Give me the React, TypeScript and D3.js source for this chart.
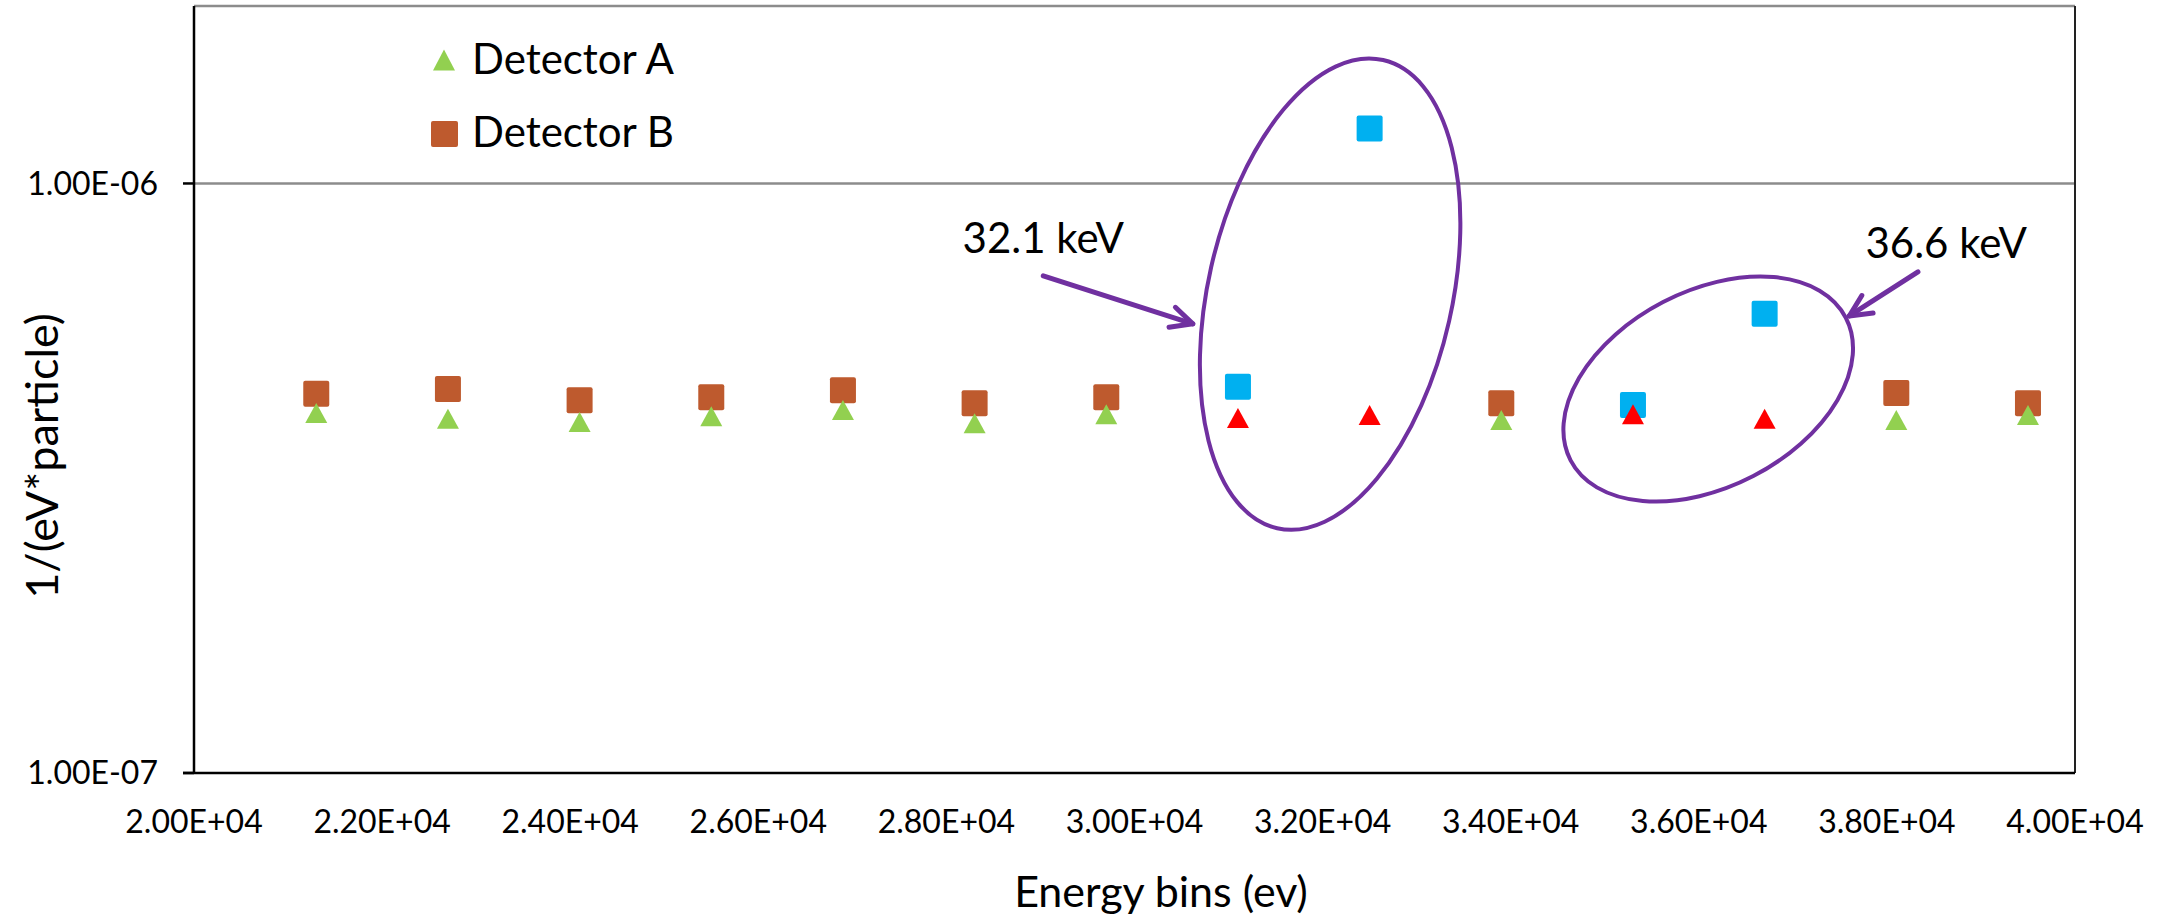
import { useEffect } from 'react'
import { scaleLinear, scaleLog } from 'd3'

const W = 2177
const H = 916

// bin centres (eV) and values
const ENERGY = [21300, 22700, 24100, 25500, 26900, 28300, 29700, 31100, 32500, 33900, 35300, 36700, 38100, 39500]
const DETECTOR_A = [4.08e-7, 3.99e-7, 3.94e-7, 4.03e-7, 4.13e-7, 3.92e-7, 4.06e-7, 4.0e-7, 4.05e-7, 3.97e-7, 4.06e-7, 3.99e-7, 3.97e-7, 4.05e-7]
const DETECTOR_B = [4.4e-7, 4.48e-7, 4.29e-7, 4.34e-7, 4.46e-7, 4.24e-7, 4.34e-7, 4.52e-7, 1.24e-6, 4.24e-7, 4.21e-7, 6.01e-7, 4.41e-7, 4.24e-7]
// bins highlighted as peaks
const PEAK_BINS = [7, 8, 10, 11]

const X_TICKS = [20000, 22000, 24000, 26000, 28000, 30000, 32000, 34000, 36000, 38000, 40000]
const X_TICK_LABELS = ['2.00E+04', '2.20E+04', '2.40E+04', '2.60E+04', '2.80E+04', '3.00E+04', '3.20E+04', '3.40E+04', '3.60E+04', '3.80E+04', '4.00E+04']
const Y_TICKS = [1e-7, 1e-6]
const Y_TICK_LABELS = ['1.00E-07', '1.00E-06']

// annotation shapes, placed in data space (centre) with pixel radii
const ELLIPSES = [
  { x: 32080, y: 6.49e-7, rx: 122, ry: 240, rot: 12.75 },
  { x: 36100, y: 4.48e-7, rx: 155, ry: 98, rot: -27.4 },
]
const ARROWS = [
  { x1: 29030, y1: 6.97e-7, x2: 30620, y2: 5.78e-7 },
  { x1: 38330, y1: 7.08e-7, x2: 37600, y2: 5.96e-7 },
]
const NOTES = [
  { x: 29030, y: 7.62e-7, text: '32.1 keV' },
  { x: 38630, y: 7.47e-7, text: '36.6 keV' },
]

const GREEN = '#92D050'
const BROWN = '#BE5A2E'
const CYAN = '#00B0F0'
const RED = '#FF0000'
const PURPLE = '#7030A0'
const FONT = 'Lato, "Open Sans", sans-serif'

const left = 194, right = 2075, top = 6, bottom = 773

const tri = (cx, cy, w, h) =>
  `M${cx - w / 2},${cy + h / 2}L${cx},${cy - h / 2}L${cx + w / 2},${cy + h / 2}Z`

const arrowHead = (x1, y1, x2, y2, len = 24, spread = 0.45) => {
  const a = Math.atan2(y2 - y1, x2 - x1)
  const p1 = [x2 - len * Math.cos(a - spread), y2 - len * Math.sin(a - spread)]
  const p2 = [x2 - len * Math.cos(a + spread), y2 - len * Math.sin(a + spread)]
  return `M${p1[0]},${p1[1]}L${x2},${y2}L${p2[0]},${p2[1]}`
}

const App = () => {
  useEffect(() => {
    document.body.style.margin = '0'
  }, [])

  const x = scaleLinear().domain([20000, 40000]).range([left, right])
  const y = scaleLog().domain([1e-7, 2e-6]).range([bottom, top])

  return (
    <svg width={W} height={H} style={{ display: 'block', background: '#fff' }} fontFamily={FONT}>
      {/* gridlines */}
      <line x1={left} x2={right} y1={y(2e-6)} y2={y(2e-6)} stroke="#8c8c8c" strokeWidth={2.5} />
      {Y_TICKS.slice(1).map(t => (
        <line key={t} x1={left} x2={right} y1={y(t)} y2={y(t)} stroke="#8c8c8c" strokeWidth={2.5} />
      ))}
      <line x1={right} x2={right} y1={top} y2={bottom} stroke="#222" strokeWidth={2} />

      {/* axes */}
      <line x1={left} x2={left} y1={top} y2={bottom} stroke="#000" strokeWidth={2.5} />
      <line x1={left - 11} x2={right} y1={bottom} y2={bottom} stroke="#000" strokeWidth={2.5} />
      {Y_TICKS.map((t, i) => (
        <g key={t}>
          <line x1={left - 11} x2={left} y1={y(t)} y2={y(t)} stroke="#000" strokeWidth={2.5} />
          <text x={left - 36} y={y(t)} dy="0.35em" textAnchor="end" fontSize={32}>{Y_TICK_LABELS[i]}</text>
        </g>
      ))}
      {X_TICKS.map((t, i) => (
        <text key={t} x={x(t)} y={833} textAnchor="middle" fontSize={32}>{X_TICK_LABELS[i]}</text>
      ))}

      {/* axis titles */}
      <text x={1161} y={907} textAnchor="middle" fontSize={43}>Energy bins (ev)</text>
      <text transform="translate(41,456) rotate(-90)" textAnchor="middle" dominantBaseline="central" fontSize={45}>
        1/(eV*particle)
      </text>

      {/* detector B squares */}
      {ENERGY.map((e, i) => (
        <rect key={'b' + i} x={x(e) - 13} y={y(DETECTOR_B[i]) - 13} width={26} height={26} rx={2}
          fill={PEAK_BINS.includes(i) ? CYAN : BROWN} />
      ))}
      {/* detector A triangles */}
      {ENERGY.map((e, i) => (
        <path key={'a' + i} d={tri(x(e), y(DETECTOR_A[i]), 22, 20)}
          fill={PEAK_BINS.includes(i) ? RED : GREEN} />
      ))}

      {/* annotations */}
      {ELLIPSES.map((el, i) => (
        <ellipse key={'el' + i} cx={0} cy={0} rx={el.rx} ry={el.ry}
          transform={`translate(${x(el.x)},${y(el.y)}) rotate(${el.rot})`}
          fill="none" stroke={PURPLE} strokeWidth={4} />
      ))}
      {ARROWS.map((a, i) => {
        const x1 = x(a.x1), y1 = y(a.y1), x2 = x(a.x2), y2 = y(a.y2)
        return (
          <g key={'ar' + i} stroke={PURPLE} strokeWidth={5} fill="none" strokeLinecap="round" strokeLinejoin="round">
            <line x1={x1} y1={y1} x2={x2} y2={y2} />
            <path d={arrowHead(x1, y1, x2, y2)} />
          </g>
        )
      })}
      {NOTES.map(n => (
        <text key={n.text} x={x(n.x)} y={y(n.y)} textAnchor="middle" fontSize={42}>{n.text}</text>
      ))}

      {/* legend */}
      <path d={tri(444, 60, 22, 21)} fill={GREEN} />
      <text x={472} y={74} fontSize={42}>Detector A</text>
      <rect x={431} y={121} width={27} height={26} rx={2} fill={BROWN} />
      <text x={472} y={147} fontSize={42}>Detector B</text>
    </svg>
  )
}

export default App
